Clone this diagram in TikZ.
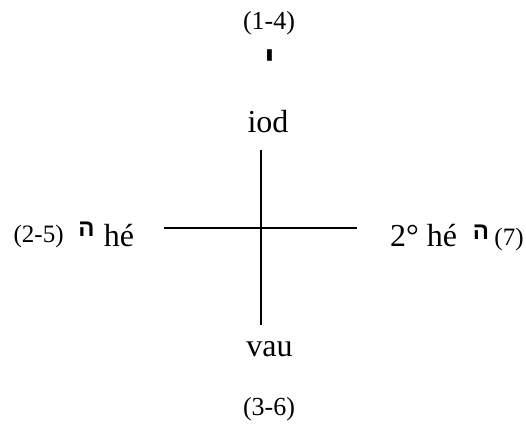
\documentclass[tikz,border=0pt]{standalone}
\usepackage{fontspec}
\setmainfont{Liberation Serif}
\newfontfamily\hebfont[Script=Hebrew]{Liberation Sans}
\TeXXeTstate=1
\begin{document}
\begin{tikzpicture}[x=1pt,y=-1pt,
  big/.style={inner sep=0pt,anchor=base,font=\fontsize{32}{36}\selectfont},
  mid/.style={inner sep=0pt,font=\fontsize{26}{30}\selectfont},
  small/.style={inner sep=0pt,font=\fontsize{25}{28}\selectfont},
  heb/.style={inner sep=0pt,font=\hebfont\bfseries\fontsize{24}{28}\selectfont},
  yodst/.style={inner sep=0pt,font=\hebfont\bfseries\fontsize{36}{40}\selectfont},
  axis/.style={line width=1.8pt}]
\useasboundingbox (0,0) rectangle (526,423);
\node[mid] (n14) at (269,23.5) {(1-4)};
\node[yodst] (yod) at (269.5,61) {\beginR י\endR};
\node[big] (iod) at (268,132.6) {iod};
\node[small] (n25) at (38.6,236.6) {(2-5)};
\node[heb] (he1) at (86.5,229) {\beginR ה\endR};
\node[big] (hea) at (119,246) {hé};
\node[big] (heb2) at (423.5,246) {2° hé};
\node[heb] (he2) at (481,232) {\beginR ה\endR};
\node[small] (n7) at (509,239) {(7)};
\node[big] (vau) at (269.5,356.7) {vau};
\node[mid] (n36) at (269,409.4) {(3-6)};
\coordinate (top) at (261,150.3);
\coordinate (bot) at (261,324.8);
\coordinate (left) at (163.8,228);
\coordinate (right) at (357.4,228);
\draw[axis] (top) -- (bot);
\draw[axis] (left) -- (right);
\end{tikzpicture}
\end{document}
